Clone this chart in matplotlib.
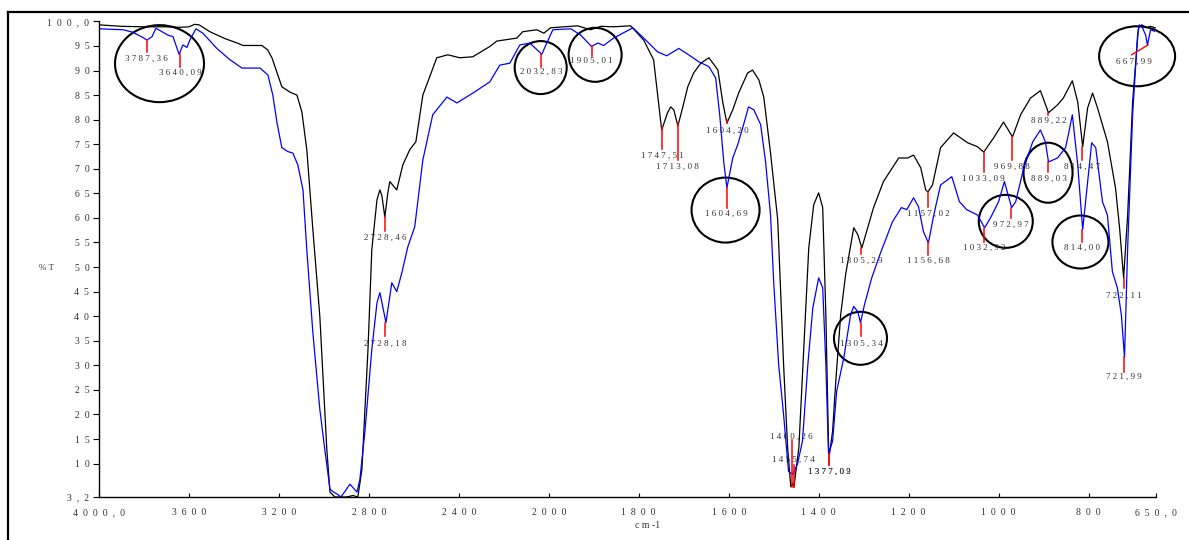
import matplotlib
matplotlib.use("Agg")
import matplotlib.pyplot as plt
import numpy as np
from matplotlib.patches import Ellipse
from matplotlib.transforms import ScaledTranslation
from matplotlib.lines import Line2D

# black spectrum (wavenumber cm-1, %T)
black_w = [4000, 3900, 3800, 3700, 3640, 3600, 3575, 3555, 3507, 3440, 3380, 3360, 3276, 3250,
           3231, 3187, 3151, 3120, 3098, 3076, 3049, 3018, 2987, 2973, 2951, 2900, 2870, 2849,
           2831, 2804, 2787, 2764, 2751, 2742, 2729, 2716, 2707, 2676, 2649, 2618, 2591, 2560,
           2498, 2449, 2396, 2338, 2262, 2231, 2142, 2116, 2053, 2022, 1996, 1936, 1907, 1884,
           1856, 1818, 1789, 1767, 1756, 1749, 1736, 1729, 1722, 1713, 1702, 1691, 1678, 1662,
           1644, 1624, 1613, 1604, 1591, 1578, 1558, 1547, 1533, 1522, 1507, 1491, 1478, 1469,
           1462, 1458, 1455, 1444, 1433, 1422, 1411, 1400, 1391, 1384, 1378, 1376, 1369, 1362,
           1351, 1340, 1322, 1313, 1304, 1291, 1278, 1256, 1222, 1202, 1189, 1173, 1162, 1157,
           1147, 1129, 1100, 1069, 1047, 1033, 1011, 989, 969, 951, 929, 907, 889, 869, 856,
           836, 824, 813, 802, 791, 780, 758, 740, 731, 722, 713, 702, 696, 689, 682, 670, 662,
           652]
black_t = [99.3, 99.0, 98.9, 98.9, 98.8, 98.9, 99.4, 99.3, 97.9, 96.5, 95.5, 95.1, 95.1, 94.2,
           92.6, 86.7, 85.6, 85.0, 81.6, 73.9, 57.6, 39.9, 12.9, 4.2, 3.2, 3.2, 3.5, 3.2,
           8.8, 33.2, 53.5, 63.7, 65.7, 64.5, 60.2, 65.0, 67.4, 65.7, 70.8, 73.9, 75.5, 85.0,
           92.6, 93.2, 92.6, 92.8, 94.9, 96.0, 96.6, 97.9, 98.3, 97.6, 98.7, 99.1, 98.3, 99.0,
           98.9, 99.1, 96.2, 92.2, 83.4, 77.9, 81.4, 82.6, 82.0, 78.7, 82.6, 86.7, 89.5, 91.5,
           92.6, 90.1, 83.4, 79.3, 82.0, 85.4, 89.5, 90.1, 88.1, 84.6, 73.2, 59.6, 30.2, 13.3,
           5.3, 6.0, 5.2, 13.3, 33.6, 53.9, 62.7, 65.1, 62.1, 40.3, 13.3, 11.9, 16.6, 26.7,
           40.3, 48.5, 58.0, 56.6, 53.9, 58.0, 62.1, 67.4, 72.2, 72.2, 72.8, 70.2, 65.7, 65.3,
           66.7, 74.3, 77.3, 75.3, 74.5, 73.4, 76.3, 79.5, 76.5, 81.0, 84.4, 85.9, 81.4, 83.0, 84.4,
           87.9, 83.6, 74.5, 82.4, 85.4, 82.4, 75.5, 66.1, 58.0, 47.8, 60.6, 83.6, 90.5, 98.7, 99.3, 98.7, 99.0,
           98.7]

# blue spectrum
blue_w = [4000, 3893, 3850, 3804, 3787, 3764, 3747, 3720, 3693, 3671, 3653, 3644, 3627, 3609,
          3596, 3569, 3538, 3476, 3418, 3364, 3284, 3249, 3227, 3209, 3187, 3160, 3138, 3116,
          3093, 3076, 3049, 3018, 2996, 2973, 2960, 2938, 2924, 2884, 2853, 2840, 2818, 2787,
          2764, 2751, 2724, 2698, 2676, 2653, 2627, 2596, 2560, 2516, 2453, 2409, 2338, 2262,
          2218, 2173, 2129, 2084, 2031, 2009, 1991, 1951, 1929, 1905, 1891, 1878, 1856, 1813,
          1789, 1758, 1738, 1711, 1689, 1667, 1644, 1629, 1620, 1611, 1604, 1591, 1580, 1569,
          1556, 1544, 1529, 1518, 1507, 1500, 1489, 1478, 1467, 1458, 1447, 1436, 1424, 1413,
          1400, 1391, 1384, 1378, 1369, 1360, 1344, 1329, 1322, 1313, 1307, 1298, 1282, 1264,
          1236, 1216, 1204, 1189, 1178, 1167, 1156, 1144, 1129, 1104, 1087, 1071, 1047, 1031,
          1018, 1000, 987, 971, 962, 944, 924, 907, 896, 889, 869, 851, 845, 836, 824, 813, 802,
          793, 784, 769, 758, 747, 736, 727, 720, 713, 702, 691, 687, 680, 673, 669, 662, 653]
blue_t = [98.5, 98.3, 97.8, 96.7, 96.2, 96.9, 98.6, 97.9, 97.2, 96.9, 94.5, 93.3, 95.2, 94.7,
          96.2, 98.5, 97.6, 94.5, 92.2, 90.5, 90.5, 89.1, 85.0, 79.5, 74.3, 73.5, 73.2, 70.8,
          65.7, 53.5, 36.6, 21.0, 12.9, 4.8, 4.3, 3.7, 3.2, 5.8, 4.2, 6.8, 16.3, 33.2,
          42.7, 44.8, 38.7, 46.8, 45.0, 48.9, 54.1, 58.2, 71.8, 81.0, 84.6, 83.4, 85.4, 87.7,
          91.1, 91.5, 95.2, 95.6, 93.3, 95.6, 98.3, 98.5, 97.2, 94.9, 95.6, 95.1, 96.6, 98.7,
          96.6, 93.8, 93.0, 94.5, 93.2, 91.8, 90.8, 88.5, 81.0, 71.4, 66.1, 72.2, 74.9, 78.3,
          82.6, 82.0, 79.0, 71.4, 60.6, 47.0, 30.2, 20.0, 8.4, 7.8, 9.9, 14.6, 30.2, 41.7,
          47.8, 45.8, 30.2, 11.9, 14.6, 24.7, 31.6, 40.3, 42.0, 40.9, 38.7, 42.4, 47.8, 52.5,
          59.2, 62.1, 61.7, 64.1, 62.3, 57.2, 54.9, 60.6, 66.7, 68.4, 63.3, 61.7, 60.6, 58.0,
          60.0, 63.3, 67.4, 62.1, 63.3, 70.2, 75.5, 77.9, 75.5, 71.4, 72.2, 74.3, 76.9, 81.0, 70.8, 57.6, 67.4,
          75.3, 74.3, 63.3, 60.6, 49.1, 45.8, 40.3, 31.6, 53.9, 81.0, 97.2, 99.3, 98.7, 97.2, 95.2, 98.3, 98.0]

# peak labels: text, x, tick top, tick bottom, label y
peak_text = ["3787,36", "3640,09", "2728,46", "2728,18", "2032,83", "1905,01", "1747,51",
             "1713,08", "1604,20", "1604,69", "1460,26", "1455,74", "1377,02", "1377,09",
             "1305,29", "1305,34", "1157,02", "1156,68", "1033,09", "1032,92", "969,88",
             "972,97", "889,22", "889,03", "814,47", "814,00", "722,11", "721,99"]
peak_x = [3787.36, 3640.09, 2728.46, 2728.18, 2032.83, 1905.01, 1747.51, 1713.08, 1604.20,
          1604.69, 1460.26, 1455.74, 1377.02, 1377.09, 1305.29, 1305.34, 1157.02, 1156.68,
          1033.09, 1032.92, 969.88, 972.97, 889.22, 889.03, 814.47, 814.00, 722.11, 721.99]
tick_top = [96.2, 93.4, 60.2, 38.7, 93.4, 95.0, 78.5, 79.3, 80.0, 66.1, 14.7, 9.8, 11.9, 11.9,
            53.9, 38.7, 65.3, 55.0, 73.5, 58.0, 76.5, 62.1, 81.4, 71.4, 74.5, 57.6, 47.8, 31.6]
tick_bot = [93.8, 90.7, 57.4, 35.9, 90.7, 93.0, 74.1, 71.8, 79.3, 62.1, 5.2, 5.2, 9.8, 9.8,
            52.7, 35.9, 62.3, 52.5, 69.4, 55.2, 71.8, 60.0, 81.0, 69.4, 71.8, 55.2, 45.8, 28.7]
label_y = [92.4, 89.5, 56.0, 34.4, 89.7, 92.0, 72.6, 70.4, 77.7, 60.9, 15.5, 10.7, 8.4, 8.4,
           51.3, 34.4, 60.9, 51.3, 68.0, 53.9, 70.4, 58.6, 79.8, 68.0, 70.4, 53.9, 44.2, 27.6]

# circled regions: centre (cm-1, %T) and size in pixels
circ_x = [3731, 2036, 1897, 1607, 1307, 984, 890, 818, 692]
circ_y = [91.4, 90.6, 93.2, 61.6, 35.5, 59.3, 69.2, 55.1, 92.9]
circ_w = [89, 52, 53, 68, 53, 54, 49, 56, 76]
circ_h = [77, 53, 54, 65, 53, 53, 60, 53, 60]

xticks = [4000, 3600, 3200, 2800, 2400, 2000, 1800, 1600, 1400, 1200, 1000, 800, 650]
xtick_labels = ["4000,0", "3600", "3200", "2800", "2400", "2000", "1800", "1600", "1400",
                "1200", "1000", "800", "650,0"]
yticks = [3.2, 10, 15, 20, 25, 30, 35, 40, 45, 50, 55, 60, 65, 70, 75, 80, 85, 90, 95, 100]
ytick_labels = ["3,2"] + [str(v) for v in yticks[1:-1]] + ["100,0"]

plt.rcParams['font.family'] = ['Liberation Serif', 'DejaVu Serif']
txt_col = '#333333'


def fwd(w):
    w = np.asarray(w, dtype=float)
    return np.where(w >= 2000, w, 2 * w - 2000)


def inv(u):
    u = np.asarray(u, dtype=float)
    return np.where(u >= 2000, u, (u + 2000) / 2)


fig = plt.figure(figsize=(11.89, 5.4), dpi=100)
ax = fig.add_axes([99 / 1189, 43 / 540, 1057 / 1189, 475.6 / 540])
ax.set_xscale('function', functions=(fwd, inv))

ax.plot(black_w, black_t, color='black', lw=0.9)
ax.plot(blue_w, blue_t, color='#0000ff', lw=0.9)

ax.set_xlim(4000, 650)
ax.set_ylim(3.2, 100)

for t, x, y1, y2, ly in zip(peak_text, peak_x, tick_top, tick_bot, label_y):
    ax.plot([x, x], [y1, y2], color='red', lw=1.1, clip_on=False)
    ax.text(x, ly, ' '.join(t), ha='center', va='center', fontsize=6.5, color=txt_col)

# 667,99 label has a slanted marker
ax.plot([667.99, 704], [95.2, 93.2], color='red', lw=1.0, clip_on=False)
ax.text(700, 91.7, ' '.join("667,99"), ha='center', va='center', fontsize=6.5, color=txt_col)

for cx, cy, cw, ch in zip(circ_x, circ_y, circ_w, circ_h):
    tr = fig.dpi_scale_trans + ScaledTranslation(cx, cy, ax.transData)
    ax.add_patch(Ellipse((0, 0), cw / 100, ch / 100, transform=tr, fill=False,
                         edgecolor='black', lw=1.5, clip_on=False))

ax.set_xticks(xticks)
ax.set_xticklabels(['  '.join(s) for s in xtick_labels])
ax.set_yticks(yticks)
ax.set_yticklabels(['  '.join(s) for s in ytick_labels])
ax.xaxis.set_minor_locator(matplotlib.ticker.NullLocator())
ax.tick_params(axis='x', direction='in', length=3, width=0.8, pad=8, labelsize=7,
               labelcolor=txt_col)
ax.tick_params(axis='y', direction='out', length=4, width=0.8, pad=3, labelsize=7,
               labelcolor=txt_col)
for side in ['top', 'right']:
    ax.spines[side].set_visible(False)
for side in ['left', 'bottom']:
    ax.spines[side].set_linewidth(1.0)

ax.set_ylabel('% T', rotation=0, fontsize=6.5, color=txt_col, ha='center', va='center')
ax.yaxis.set_label_coords(-0.0492, 0.4815)
ax.set_xlabel('c m -1', fontsize=7, color=txt_col, ha='center', va='center')
ax.xaxis.set_label_coords(0.519, -0.0589)

# outer frame
fig.add_artist(Line2D([8 / 1189, 8 / 1189], [0, 1 - 12 / 540], color='black', lw=1.6))
fig.add_artist(Line2D([8 / 1189, 1], [1 - 12 / 540, 1 - 12 / 540], color='black', lw=1.6))

fig.savefig('out.png', dpi=100)
